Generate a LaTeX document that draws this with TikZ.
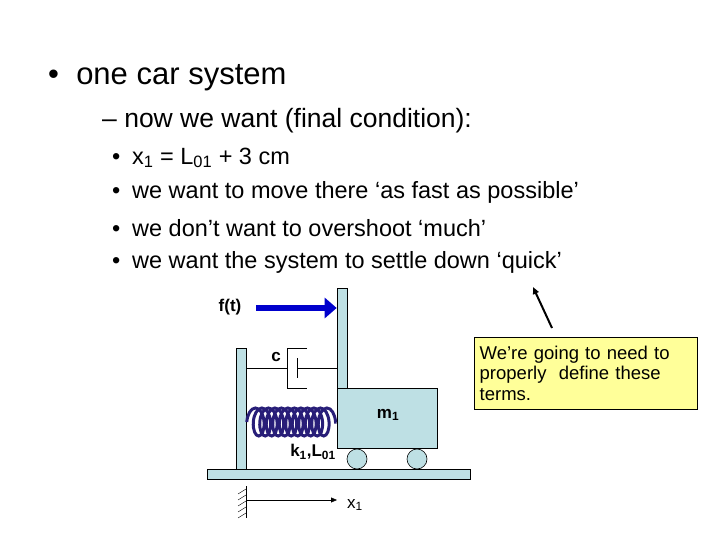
\documentclass[tikz,border=0pt]{standalone}
\usepackage{fontspec}
\setmainfont{Liberation Sans}
\usetikzlibrary{decorations.pathmorphing,arrows.meta}
\definecolor{lb}{RGB}{190,224,228}
\definecolor{yb}{RGB}{255,255,153}
\definecolor{spr}{RGB}{40,30,120}
\tikzset{part/.style={fill=lb,draw=black,line width=0.6pt},
 lbl/.style={font=\bfseries\fontsize{17}{19}\selectfont,inner sep=0pt},
 sb/.style={anchor=west,inner sep=0pt,font=\fontsize{23.5}{27}\selectfont}}
\begin{document}
\begin{tikzpicture}[x=1pt,y=-1pt]
\useasboundingbox (0,0) rectangle (720,540);
\node[anchor=west,inner sep=0pt,font=\fontsize{31}{35}\selectfont] (t1) at (48,78) {•\ \ one car system};
\node[anchor=west,inner sep=0pt,font=\fontsize{26.5}{30}\selectfont] (t2) at (102,121) {– now we want (final condition):};
\node[sb] (b1) at (112,158) {•\enspace x\textsubscript{1} = L\textsubscript{01} + 3 cm};
\node[sb] (b2) at (112,192) {•\enspace we want to move there ‘as fast as possible’};
\node[sb] (b3) at (112,228) {•\enspace we don’t want to overshoot ‘much’};
\node[sb] (b4) at (112,262) {•\enspace we want the system to settle down ‘quick’};
% floor
\path[part] (207,469) rectangle (470,479);
\node[part,minimum width=10pt,minimum height=121pt,inner sep=0pt] (wall) at (241.5,408.5) {};
\node[part,minimum width=10pt,minimum height=100pt,inner sep=0pt] (post) at (342,338) {};
\node[part,minimum width=100pt,minimum height=60pt,inner sep=0pt] (mass) at (387,418) {};
\node[lbl] at (388,415) {m\textsubscript{1}};
\node[part,circle,minimum size=20pt,inner sep=0pt] (w1) at (357,459) {};
\node[part,circle,minimum size=20pt,inner sep=0pt] (w2) at (417,459) {};
% force
\draw[line width=6pt,blue!80!black,-{Triangle[length=12pt,width=20pt]}] (256,308) -- (post.west|-0,308);
\node[lbl] (ft) at (230,307) {f(t)};
% damper
\draw (wall.east|-0,368) -- (287,368);
\draw (307,348) -- (287,348) -- (287,388) -- (307,388);
\draw (297,358) -- (297,378);
\draw (297,368) -- (post.west|-0,368);
\node[lbl] at (276,357) {c};
% spring
\draw[spr,line width=3pt,decoration={coil,segment length=6.5pt,amplitude=14pt,aspect=0.5},decorate] (wall.east|-0,422) -- (mass.west|-0,422);
\node[lbl] at (313,452) {k\textsubscript{1},L\textsubscript{01}};
% ground and x1
\draw (246,486) -- (246,518);
\foreach \y in {489,495,501,507,513} \draw (246,\y) -- (238,\y+5);
\draw[-{Triangle[length=6pt,width=5pt]}] (246,500) -- (337,500);
\node[inner sep=0pt,font=\fontsize{17}{19}\selectfont] at (355,505) {x\textsubscript{1}};
% note
\node[draw=black,fill=yb,anchor=north west,minimum width=223pt,minimum height=72pt,align=left,text width=212pt,font=\fontsize{18.5}{20.5}\selectfont,inner sep=5pt] (note) at (474,337) {We’re going to need to\\properly\ \ define these\\terms.};
\draw[line width=2pt,-{Triangle[length=7pt,width=6pt]}] (552,328) -- (533,287);
\end{tikzpicture}
\end{document}
